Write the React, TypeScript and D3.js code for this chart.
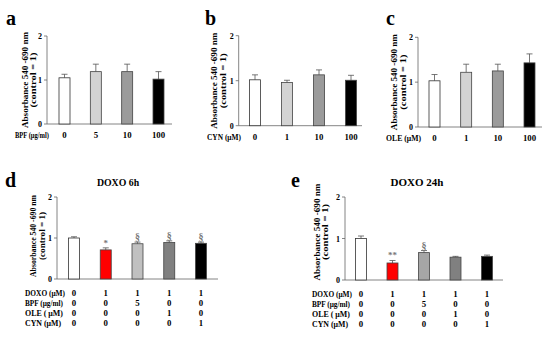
import * as d3 from 'd3';

// panels a-c: single treatment dose series
const doseA = ['0', '5', '10', '100'];
const meanA = [1.05, 1.19, 1.19, 1.02];
const errA = [1.13, 1.36, 1.36, 1.19];

const doseB = ['0', '1', '10', '100'];
const meanB = [1.02, 0.96, 1.13, 1.01];
const errB = [1.13, 1.01, 1.24, 1.12];

const doseC = ['0', '1', '10', '100'];
const meanC = [1.03, 1.22, 1.25, 1.43];
const errC = [1.17, 1.4, 1.4, 1.63];

// panels d-e: doxorubicin combos
const comboRows = ['DOXO (μM)', 'BPF (μg/ml)', 'OLE ( μM)', 'CYN (μM)'];
const comboValues = [
  ['0', '1', '1', '1', '1'],
  ['0', '0', '5', '0', '0'],
  ['0', '0', '0', '1', '0'],
  ['0', '0', '0', '0', '1'],
];

const meanD = [1.0, 0.71, 0.86, 0.89, 0.87];
const errD = [1.03, 0.76, 0.9, 0.93, 0.9];
const sigD = ['', '*', '§', '§', '§'];

const meanE = [1.0, 0.41, 0.66, 0.55, 0.57];
const errE = [1.06, 0.47, 0.71, 0.57, 0.6];
const sigE = ['', '**', '§', '', ''];

const yTicks = [0, 1, 2];

const greysABC = ['#ffffff', '#d3d3d3', '#9b9b9b', '#000000'];
const fillsD = ['#ffffff', '#ff0000', '#c0c0c0', '#808080', '#000000'];
const fillsE = ['#ffffff', '#ff0000', '#a6a6a6', '#808080', '#000000'];

const FONT = '"Liberation Serif", "Times New Roman", serif';

type PanelProps = {
  letter: string;
  letterX: number;
  letterY: number;
  axisX: number;
  axisEnd: number;
  yRange: [number, number];
  xRange: [number, number];
  means: number[];
  errs: number[];
  fills: string[];
  ylabX: [number, number];
  ylabLen: [number, number];
  ylabSize: number;
  ylabMid?: number;
  title?: string;
  titleX?: number;
  titleSize?: number;
  sig?: string[];
  xTitle?: string;
  xTitleX?: number;
  xTitleLen?: number;
  xLabels?: string[];
  tableX?: number;
};

const rowLabelLen = [40, 38, 38, 36];

function Panel(p: PanelProps) {
  const n = p.means.length;
  const idx = d3.range(n).map(String);
  const x = d3.scalePoint<string>().domain(idx).range(p.xRange);
  const y = d3.scaleLinear().domain([0, 2]).range(p.yRange);
  const bw = 11;
  const y0 = y(0);
  const yMid = p.ylabMid ?? (y(0) + y(2)) / 2;

  return (
    <g fontFamily={FONT} fontWeight="bold">
      <text x={p.letterX} y={p.letterY} fontSize={20}>{p.letter}</text>
      {p.title && (
        <text x={p.titleX} y={p.letterY - 1} fontSize={p.titleSize} textAnchor="middle">{p.title}</text>
      )}
      {/* y label */}
      <text transform={`translate(${p.ylabX[0]},${yMid}) rotate(-90)`} textAnchor="middle" fontSize={p.ylabSize}
        textLength={p.ylabLen[0]} lengthAdjust="spacingAndGlyphs">
        Absorbance 540 -690 nm
      </text>
      <text transform={`translate(${p.ylabX[1]},${yMid}) rotate(-90)`} textAnchor="middle" fontSize={p.ylabSize}
        textLength={p.ylabLen[1]} lengthAdjust="spacingAndGlyphs">
        (control = 1)
      </text>
      {/* axes */}
      <line x1={p.axisX} x2={p.axisX} y1={y(2)} y2={y0} stroke="#666" strokeWidth={0.8} />
      <line x1={p.axisX} x2={p.axisEnd} y1={y0} y2={y0} stroke="#666" strokeWidth={0.8} />
      {yTicks.map(t => (
        <g key={t}>
          <line x1={p.axisX - 3} x2={p.axisX} y1={y(t)} y2={y(t)} stroke="#666" strokeWidth={0.8} />
          <text x={p.axisX - 5} y={y(t) + 3} fontSize={8} textAnchor="end">{t}</text>
        </g>
      ))}
      {/* bars */}
      {p.means.map((m, i) => {
        const cx = x(String(i)) as number;
        const top = y(m);
        const et = y(p.errs[i]);
        return (
          <g key={i}>
            <line x1={cx} x2={cx} y1={top} y2={et} stroke="#555" strokeWidth={0.8} />
            <line x1={cx - 3} x2={cx + 3} y1={et} y2={et} stroke="#555" strokeWidth={0.8} />
            <rect x={cx - bw / 2} y={top} width={bw} height={y0 - top} fill={p.fills[i]}
              stroke={i === 0 ? '#333' : '#444'} strokeWidth={0.8} />
            {p.sig && p.sig[i] && (
              <text x={cx} y={et - 2} fontSize={p.sig[i] === '§' ? 10 : 9} textAnchor="middle" fill="#777">
                {p.sig[i]}
              </text>
            )}
          </g>
        );
      })}
      {/* x labels (a-c) */}
      {p.xLabels && (
        <g fontSize={8.8}>
          <text x={p.xTitleX} y={y0 + 14} textLength={p.xTitleLen} lengthAdjust="spacingAndGlyphs">{p.xTitle}</text>
          {p.xLabels.map((l, i) => (
            <text key={i} x={x(String(i))} y={y0 + 14} textAnchor="middle">{l}</text>
          ))}
        </g>
      )}
      {/* treatment table (d-e) */}
      {p.tableX !== undefined && (
        <g fontSize={8.8}>
          {comboRows.map((r, ri) => (
            <g key={r}>
              <text x={p.tableX} y={y0 + 17 + ri * 10} textLength={rowLabelLen[ri]}
                lengthAdjust="spacingAndGlyphs">{r}</text>
              {comboValues[ri].map((v, i) => (
                <text key={i} x={x(String(i))} y={y0 + 17 + ri * 10} textAnchor="middle">{v}</text>
              ))}
            </g>
          ))}
        </g>
      )}
    </g>
  );
}

export default function App() {
  return (
    <svg width={550} height={341} style={{ position: 'absolute', left: 0, top: 0, background: '#fff' }}>
      <rect width={550} height={341} fill="#fff" />
      <Panel letter="a" letterX={6} letterY={25} axisX={47} axisEnd={172} yRange={[124, 36]}
        xRange={[64.5, 158.5]} means={meanA} errs={errA} fills={greysABC} ylabX={[28, 36]} ylabLen={[96, 55]} ylabSize={9}
        xTitle="BPF (μg/ml)" xTitleX={15} xTitleLen={34} xLabels={doseA} />
      <Panel letter="b" letterX={205} letterY={25} axisX={238.7} axisEnd={362} yRange={[125.7, 35.7]}
        xRange={[255, 351]} means={meanB} errs={errB} fills={greysABC} ylabX={[217, 226]} ylabLen={[96, 55]} ylabSize={9}
        xTitle="CYN (μM)" xTitleX={207} xTitleLen={34} xLabels={doseB} />
      <Panel letter="c" letterX={386} letterY={25} axisX={418} axisEnd={542} yRange={[127, 37.3]}
        xRange={[434.5, 529.5]} means={meanC} errs={errC} fills={greysABC} ylabX={[397, 406]} ylabLen={[96, 55]} ylabSize={9}
        xTitle="OLE  (μM)" xTitleX={386} xTitleLen={35} xLabels={doseC} />
      <Panel letter="d" letterX={5} letterY={187} axisX={57} axisEnd={218} yRange={[279, 197]}
        xRange={[74, 201]} means={meanD} errs={errD} fills={fillsD} ylabX={[36, 45]} ylabLen={[82, 48]} ylabSize={8.5}
        ylabMid={236} title="DOXO 6h" titleX={118} titleSize={9.8} sig={sigD} tableX={25} />
      <Panel letter="e" letterX={291} letterY={187} axisX={345} axisEnd={503} yRange={[280, 197]}
        xRange={[361, 487]} means={meanE} errs={errE} fills={fillsE} ylabX={[320, 328]} ylabLen={[97, 56]} ylabSize={9}
        ylabMid={232} title="DOXO 24h" titleX={417} titleSize={11} sig={sigE} tableX={312} />
    </svg>
  );
}
